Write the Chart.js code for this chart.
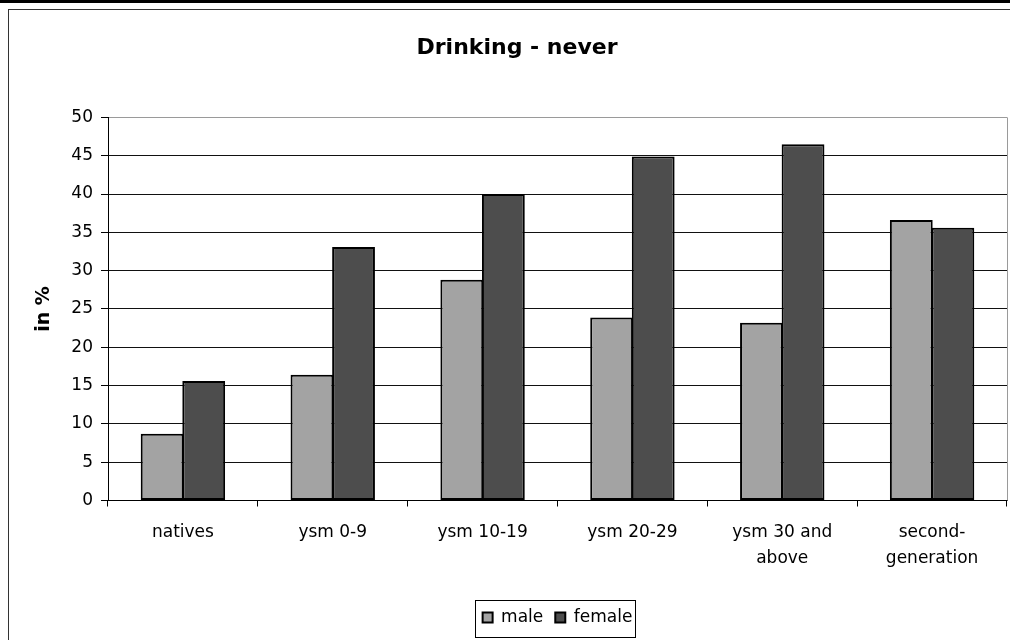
<!DOCTYPE html>
<html>
<head>
<meta charset="utf-8">
<script src="https://cdn.jsdelivr.net/npm/chart.js@4.4.1/dist/chart.umd.min.js"></script>
<style>
  html, body { margin: 0; padding: 0; background: #fff; overflow: hidden; width: 1010px; height: 640px; }
  #topline { position: absolute; left: 0; top: 0; width: 1010px; height: 3px; background: #000; }
  #frame { position: absolute; left: 8px; top: 9px; width: 1100px; height: 700px; border: 1px solid #333; box-sizing: border-box; }
  #c { position: absolute; left: 8px; top: 9px; }
</style>
</head>
<body>
<div id="topline"></div>
<div id="frame"></div>
<canvas id="c" width="1018" height="631"></canvas>
<script>
// Share of respondents who never drink, by migration background (in %)
const categories = ['natives', 'ysm 0-9', 'ysm 10-19', 'ysm 20-29', ['ysm 30 and', 'above'], ['second-', 'generation']];
const maleValues = [8.7, 16.4, 28.8, 23.9, 23.2, 36.6];
const femaleValues = [15.6, 33.1, 40.0, 44.9, 46.5, 35.6];
const yTicks = { min: 0, max: 50, step: 5 };

const FONT = 'DejaVu Sans';

// gray right edge of the plot area
const plotFrame = {
  id: 'plotFrame',
  beforeDatasetsDraw(chart) {
    const a = chart.chartArea, ctx = chart.ctx;
    ctx.save();
    ctx.strokeStyle = '#9a9a9a';
    ctx.lineWidth = 1;
    ctx.beginPath();
    ctx.moveTo(Math.round(a.right) + 0.5, a.top);
    ctx.lineTo(Math.round(a.right) + 0.5, a.bottom);
    ctx.stroke();
    ctx.restore();
  }
};

// thin box around the legend entries
const legendBox = {
  id: 'legendBox',
  afterDraw(chart) {
    const lg = chart.legend;
    if (!lg || !lg.legendHitBoxes || !lg.legendHitBoxes.length) return;
    const hb = lg.legendHitBoxes;
    const first = hb[0], last = hb[hb.length - 1];
    const cy = first.top + first.height / 2;
    const x0 = Math.round(first.left - 8) + 0.5;
    const x1 = Math.round(last.left + last.width + 3) + 0.5;
    const y0 = Math.round(cy - 18) + 0.5;
    const y1 = Math.round(cy + 19) + 0.5;
    const ctx = chart.ctx;
    ctx.save();
    ctx.strokeStyle = '#000';
    ctx.lineWidth = 1;
    ctx.strokeRect(x0, y0, x1 - x0, y1 - y0);
    ctx.restore();
  }
};

new Chart(document.getElementById('c'), {
  type: 'bar',
  data: {
    labels: categories,
    datasets: [
      { label: 'male', data: maleValues, backgroundColor: '#a3a3a3', borderColor: '#000', borderWidth: 2, borderSkipped: false },
      { label: 'female', data: femaleValues, backgroundColor: '#4d4d4d', borderColor: '#000', borderWidth: 2, borderSkipped: false }
    ]
  },
  options: {
    responsive: false,
    animation: false,
    devicePixelRatio: 1,
    layout: { padding: { left: 19, right: 19, top: 0, bottom: 4 } },
    datasets: { bar: { categoryPercentage: 0.555, barPercentage: 1.03 } },
    plugins: {
      title: {
        display: true,
        text: 'Drinking - never',
        color: '#000',
        font: { family: FONT, size: 22, weight: 'bold' },
        padding: { top: 26, bottom: 56 }
      },
      legend: {
        position: 'bottom',
        fullSize: false,
        labels: {
          color: '#000',
          boxWidth: 10,
          boxHeight: 10,
          padding: 12,
          font: { family: FONT, size: 17 }
        }
      },
      tooltip: { enabled: false }
    },
    scales: {
      x: {
        afterFit(scale) { scale.height = 96.5; },
        grid: { offset: true, drawOnChartArea: false, drawTicks: true, tickLength: 6, color: '#000' },
        border: { display: true, color: '#000', width: 1 },
        ticks: {
          color: '#000',
          padding: 13,
          maxRotation: 0,
          autoSkip: false,
          font: { family: FONT, size: 17, lineHeight: 1.53 }
        }
      },
      y: {
        min: yTicks.min,
        max: yTicks.max,
        afterFit(scale) { scale.width = 81; },
        grid: {
          color: (c) => (c.tick && c.tick.value === yTicks.max ? '#9a9a9a' : '#111'),
          tickColor: '#000',
          lineWidth: 1,
          drawTicks: true,
          tickLength: 7
        },
        border: { display: true, color: '#000', width: 1 },
        ticks: {
          stepSize: yTicks.step,
          color: '#000',
          padding: 8,
          font: { family: FONT, size: 17 }
        },
        title: {
          display: true,
          text: 'in %',
          color: '#000',
          font: { family: FONT, size: 19, weight: 'bold' },
          padding: { top: 6, bottom: 0 }
        }
      }
    }
  },
  plugins: [plotFrame, legendBox]
});
</script>
</body>
</html>
